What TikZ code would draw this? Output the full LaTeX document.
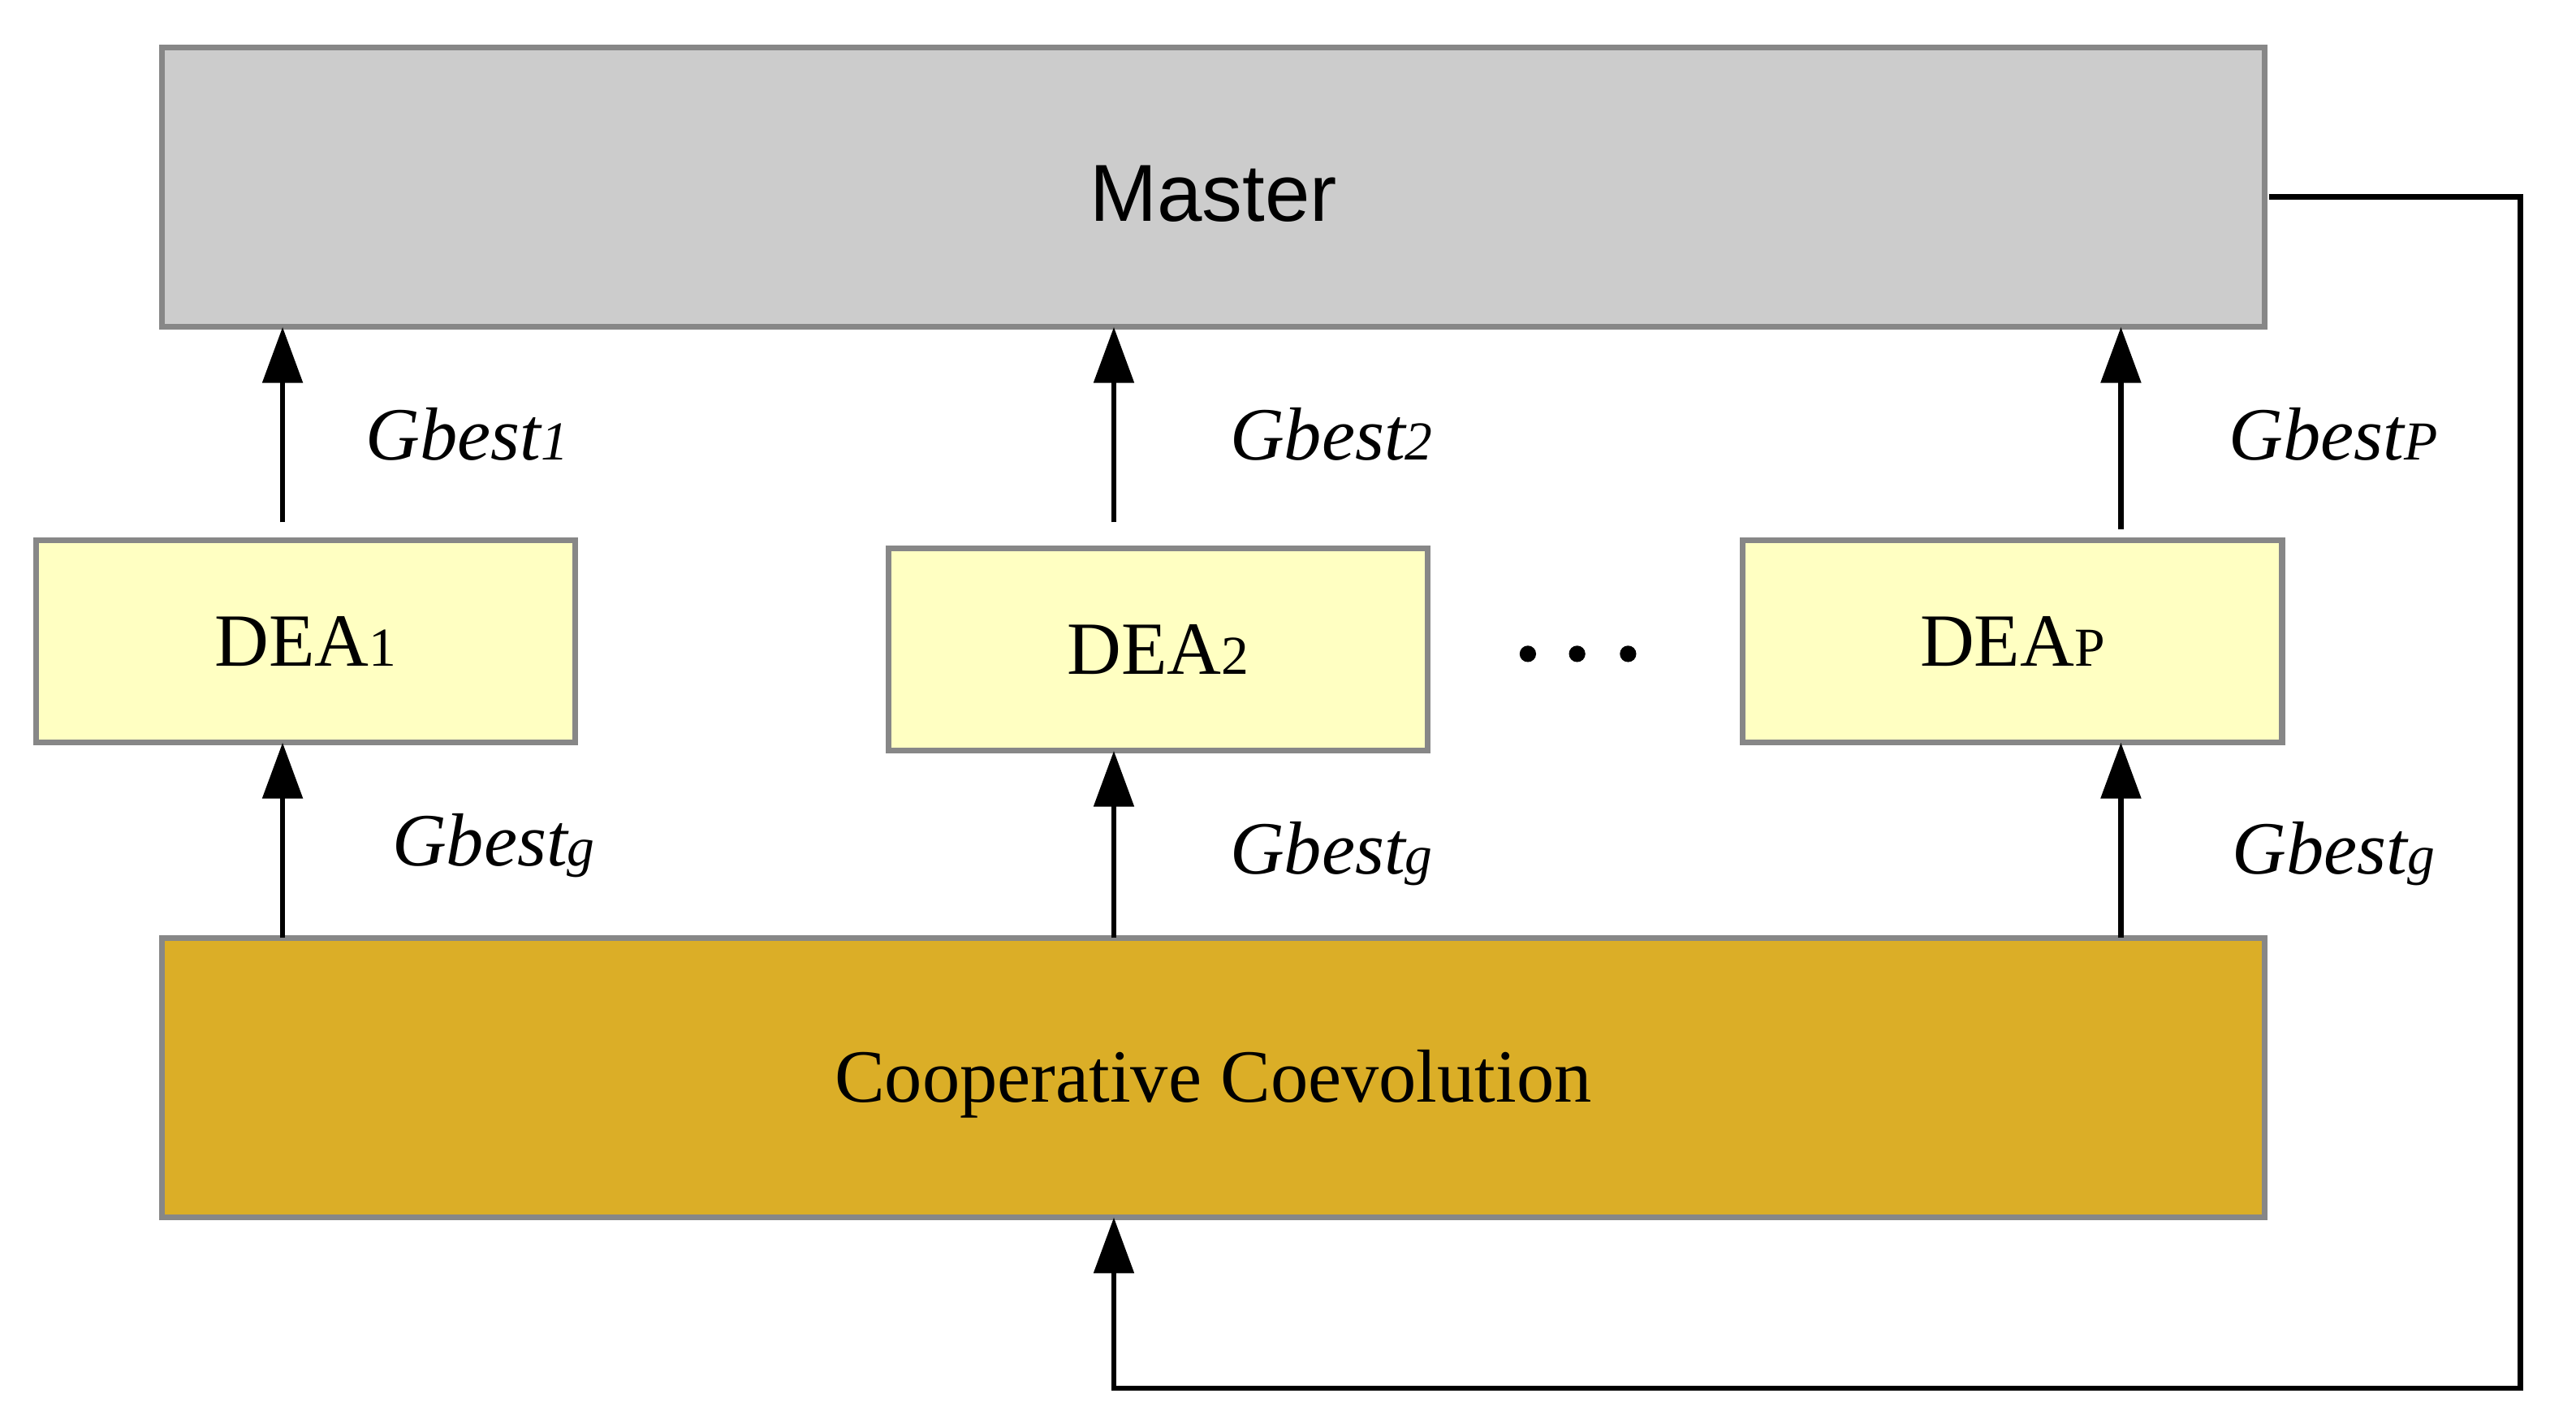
\documentclass[tikz,border=0pt]{standalone}
\usepackage{fontspec}
\setmainfont{Liberation Serif}
\newfontfamily\sansf{Liberation Sans}
\usetikzlibrary{arrows.meta}
\definecolor{mastergray}{HTML}{CCCCCC}
\definecolor{edgegray}{HTML}{878787}
\definecolor{deayellow}{HTML}{FFFFC2}
\definecolor{coopgold}{HTML}{DBAE27}
\newcommand{\smsub}[1]{{\fontsize{9.5}{10}\selectfont #1}}
\begin{document}
\begin{tikzpicture}[x=0.01cm, y=-0.01cm,
  box/.style={draw=edgegray, line width=1pt, inner sep=0pt, outer sep=0pt},
  bigbox/.style={box, minimum width=12.79cm, minimum height=1.70cm},
  deabox/.style={box, fill=deayellow, minimum width=3.28cm, minimum height=1.23cm, font=\fontsize{13}{15}\selectfont},
  arr/.style={line width=0.95pt, -{Triangle[width=0.24cm,length=0.34cm]}},
  lbl/.style={anchor=base west, inner sep=0pt, font=\fontsize{13}{15}\selectfont\itshape}]
\useasboundingbox (0,0) rectangle (1568,869);

\node[bigbox, fill=mastergray, font=\sansf\fontsize{14}{16}\selectfont, text height=11.8pt, text depth=0pt] (master) at (738.5,114) {Master};
\node[bigbox, fill=coopgold, font=\fontsize{13}{15}\selectfont, text height=11.2pt, text depth=2.8pt] (coop) at (738.5,656) {Cooperative Coevolution};

\node[deabox] (dea1) at (186,390.5) {DEA\smsub{1}};
\node[deabox] (dea2) at (705,395.5) {DEA\smsub{2}};
\node[deabox] (deap) at (1225,390.5) {DEA\smsub{P}};

\fill (930,398) circle[radius=0.05cm];
\fill (960,398) circle[radius=0.05cm];
\fill (991,398) circle[radius=0.05cm];

\coordinate (c1) at (172,0);
\coordinate (c2) at (678,0);
\coordinate (cp) at (1291,0);
\coordinate (fr) at (1534,845);

\draw[arr, shorten <=0.11cm] (c1 |- dea1.north) -- (c1 |- master.south);
\draw[arr, shorten <=0.16cm] (c2 |- dea2.north) -- (c2 |- master.south);
\draw[arr, shorten <=0.07cm] (cp |- deap.north) -- (cp |- master.south);

\draw[arr] (c1 |- coop.north) -- (c1 |- dea1.south);
\draw[arr] (c2 |- coop.north) -- (c2 |- dea2.south);
\draw[arr] (cp |- coop.north) -- (cp |- deap.south);

\draw[arr] ([shift={(0.03cm,-0.06cm)}]master.east) -| (fr) -| (c2 |- coop.south);

\node[lbl] (g1) at (222,280) {Gbest\smsub{1}};
\node[lbl] (g2) at (748,280) {Gbest\smsub{2}};
\node[lbl] (gp) at (1356,280) {Gbest\smsub{P}};
\node[lbl] (gg1) at (238,527) {Gbest\smsub{g}};
\node[lbl] (gg2) at (748,532) {Gbest\smsub{g}};
\node[lbl] (ggp) at (1358,532) {Gbest\smsub{g}};
\end{tikzpicture}
\end{document}
